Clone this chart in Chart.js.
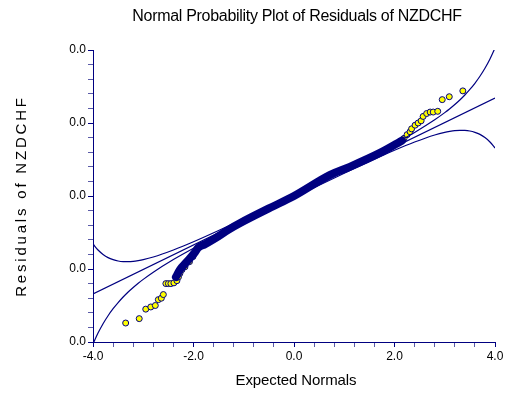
<!DOCTYPE html>
<html lang="en">
<head>
    <meta charset="UTF-8">
    <title>Normal Probability Plot of Residuals of NZDCHF</title>
    <style>
        body { margin: 0; background: #fff; }
        #wrap { width: 510px; height: 396px; }
    </style>
</head>
<body>
    <div id="wrap"><canvas id="npp" width="510" height="396"></canvas></div>

    <script src="https://cdn.jsdelivr.net/npm/chart.js"></script>
    <script>
        // Tick labels (the original prints every y label as 0.0)
        const xTickLabels = ['-4.0', '-2.0', '0.0', '2.0', '4.0'];
        const yTickLabels = ['0.0', '0.0', '0.0', '0.0', '0.0'];

        // Fitted reference line
        const fitX = [-4, 4];
        const fitY = [-0.01342, 0.01342];

        // Confidence bands
        const bandX = [-4, -3.9, -3.8, -3.7, -3.6, -3.5, -3.4, -3.3, -3.2, -3.1, -3.0, -2.8, -2.4, -2.0, -1.5, -1.0, -0.5,
                       0, 0.5, 1.0, 1.5, 2.0, 2.4, 2.8, 3.0, 3.1, 3.2, 3.3, 3.4, 3.5, 3.6, 3.7, 3.8, 3.9, 4.0];
        const bandUpper = [-0.00657, -0.00740, -0.00800, -0.00844, -0.00872, -0.00890, -0.00898, -0.00899, -0.00895, -0.00885,
                           -0.00872, -0.00836, -0.00739, -0.00626, -0.00472, -0.00311, -0.00147,
                           0.00020, 0.00189, 0.00361, 0.00534, 0.00716, 0.00871, 0.01044, 0.01142, 0.01195, 0.01253,
                           0.01315, 0.01384, 0.01460, 0.01544, 0.01640, 0.01750, 0.01878, 0.02027];
        const bandLower = [-0.02027, -0.01878, -0.01750, -0.01640, -0.01544, -0.01460, -0.01384, -0.01315, -0.01253, -0.01195,
                           -0.01142, -0.01044, -0.00871, -0.00716, -0.00534, -0.00361, -0.00189,
                           -0.00020, 0.00147, 0.00311, 0.00472, 0.00626, 0.00739, 0.00836, 0.00872, 0.00885, 0.00895,
                           0.00899, 0.00898, 0.00890, 0.00872, 0.00844, 0.00800, 0.00740, 0.00657];

        // Dense middle of the residuals (points overlap into a solid band)
        const denseX = [-2.35, -2.27, -2.13, -1.97, -1.91, -1.77, -1.57, -1.30, -1.07, -0.50, 0, 0.72, 1.11, 1.71, 2.05, 2.15];
        const denseY = [-0.0111, -0.0101, -0.0090, -0.0077, -0.0071, -0.0066, -0.0058, -0.0046, -0.0037, -0.0017, 0,
                        0.0029, 0.0040, 0.0059, 0.0072, 0.0076];

        // Individually visible residuals
        const residX = [-3.35, -3.08, -2.95, -2.85, -2.76, -2.70, -2.64, -2.60, -2.55, -2.50, -2.45, -2.39, -2.33, -2.30,
                        -2.27, -2.23, -2.17, -2.08, -2.01,
                        2.11, 2.19, 2.25, 2.31, 2.34, 2.41, 2.47, 2.53, 2.57, 2.64, 2.71, 2.77, 2.86, 2.95, 3.09, 3.36];
        const residY = [-0.0174, -0.0168, -0.0155, -0.0152, -0.0150, -0.0142, -0.0140, -0.0135, -0.0120, -0.0120, -0.0120,
                        -0.0119, -0.0116, -0.0111, -0.0106, -0.0101, -0.0097, -0.0090, -0.0083,
                        0.00744, 0.0079, 0.0084, 0.0088, 0.0092, 0.0097, 0.0100, 0.0103, 0.0109, 0.0113, 0.0115, 0.0115,
                        0.0116, 0.0132, 0.0136, 0.0144];

        const navy = '#000080';
        const font = "'Liberation Sans', Arial, sans-serif";

        const pts = (xs, ys) => xs.map((x, i) => ({ x: x, y: ys[i] }));
        const isMajor = (v, step) => Math.abs(v / step - Math.round(v / step)) < 1e-6;

        // titles drawn by hand so they can be centred on the plot and spaced like the original
        const textPlugin = {
            id: 'texts',
            afterDraw(chart) {
                const ctx = chart.ctx;
                ctx.save();
                ctx.fillStyle = '#000';
                ctx.textAlign = 'center';
                ctx.textBaseline = 'middle';

                ctx.font = '16px ' + font;
                ctx.letterSpacing = '-0.3px';
                ctx.fillText('Normal Probability Plot of Residuals of NZDCHF', 297, 17);

                ctx.font = '15px ' + font;
                ctx.letterSpacing = '-0.1px';
                ctx.fillText('Expected Normals', 296, 381);

                ctx.translate(22, 196);
                ctx.rotate(-Math.PI / 2);
                ctx.letterSpacing = '2.8px';
                ctx.fillText('Residuals of NZDCHF', 0, 0);
                ctx.restore();
            }
        };

        new Chart(document.getElementById('npp'), {
            type: 'scatter',
            data: {
                datasets: [
                    {
                        data: pts(bandX, bandUpper), showLine: true, borderColor: navy, borderWidth: 1.2,
                        pointRadius: 0, cubicInterpolationMode: 'monotone'
                    },
                    {
                        data: pts(bandX, bandLower), showLine: true, borderColor: navy, borderWidth: 1.2,
                        pointRadius: 0, cubicInterpolationMode: 'monotone'
                    },
                    {
                        data: pts(fitX, fitY), showLine: true, borderColor: navy, borderWidth: 1.2, pointRadius: 0
                    },
                    {
                        data: pts(denseX, denseY), showLine: true, borderColor: navy, borderWidth: 8,
                        borderCapStyle: 'round', borderJoinStyle: 'round', pointRadius: 0,
                        cubicInterpolationMode: 'monotone'
                    },
                    {
                        data: pts(residX, residY), backgroundColor: '#ffff00', borderColor: navy,
                        borderWidth: 1, pointRadius: 3
                    }
                ]
            },
            options: {
                responsive: false,
                animation: false,
                layout: { padding: { top: 50, right: 15, left: 0, bottom: 0 } },
                plugins: {
                    legend: { display: false },
                    tooltip: { enabled: false }
                },
                scales: {
                    x: {
                        type: 'linear', min: -4, max: 4,
                        afterFit: s => { s.height = 54; },
                        border: { color: navy, width: 1 },
                        grid: {
                            drawOnChartArea: false, tickLength: 5,
                            color: c => isMajor(c.tick.value, 2) ? navy : '#5a5aa8'
                        },
                        ticks: {
                            stepSize: 0.4, autoSkip: false, maxRotation: 0, padding: 2,
                            color: '#000', font: { family: font, size: 12 },
                            callback: v => isMajor(v, 2) ? xTickLabels[Math.round(v / 2) + 2] : ''
                        }
                    },
                    y: {
                        type: 'linear', min: -0.02, max: 0.02,
                        afterFit: s => { s.width = 93; },
                        border: { color: navy, width: 1 },
                        grid: {
                            drawOnChartArea: false, tickLength: 5,
                            color: c => isMajor(c.tick.value, 0.01) ? navy : '#5a5aa8'
                        },
                        ticks: {
                            stepSize: 0.002, autoSkip: false, padding: 2,
                            color: '#000', font: { family: font, size: 12 },
                            callback: v => isMajor(v, 0.01) ? yTickLabels[Math.round(v / 0.01) + 2] : ''
                        }
                    }
                }
            },
            plugins: [textPlugin]
        });
    </script>
</body>
</html>
